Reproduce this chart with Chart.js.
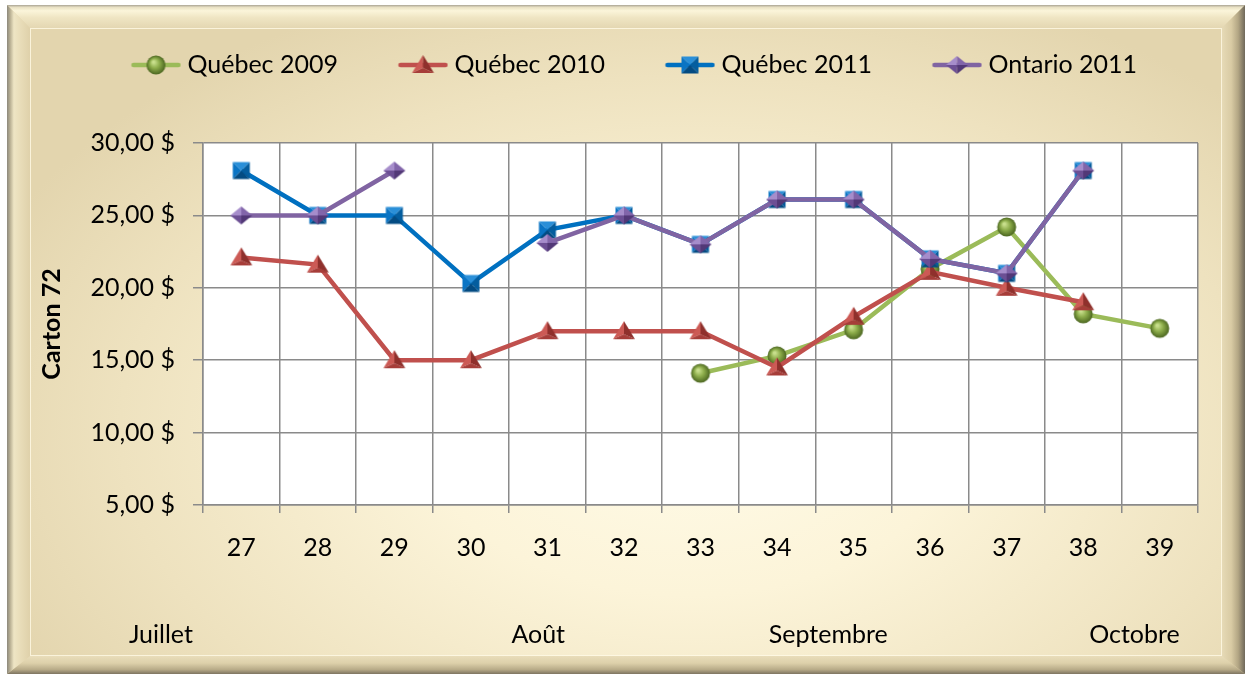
<!DOCTYPE html>
<html><head><meta charset="utf-8">
<script src="https://cdn.jsdelivr.net/npm/chart.js@4/dist/chart.umd.min.js"></script>
<style>html,body{margin:0;padding:0;background:#fff;}canvas{display:block;}</style>
</head><body>
<canvas id="c" width="1245" height="674"></canvas>
<script>
// ---- data ----
const weeks = ['27','28','29','30','31','32','33','34','35','36','37','38','39'];
const quebec2009  = [null,null,null,null,null,null,14.1,15.3,17.1,21.3,24.2,18.2,17.2];
const quebec2010  = [22.1,21.6,15.0,15.0,17.0,17.0,17.0,14.5,18.0,21.1,20.0,19.0,null];
const quebec2011  = [28.1,25.0,25.0,20.3,24.0,25.0,23.0,26.1,26.1,22.0,21.0,28.1,null];
const ontario2011 = [25.0,25.0,28.1,null,23.1,25.0,23.0,26.1,26.1,22.0,21.0,28.1,null];
const seriesNames = ['Québec 2009','Québec 2010','Québec 2011','Ontario 2011'];
const yMin = 5, yMax = 30, yStep = 5;
const yTitle = 'Carton 72';
const months = ['Juillet','Août','Septembre','Octobre'];
const monthSlot = [-1.05, 3.88, 7.67, 11.67]; // position in week slots from first week

// ---- styles ----
const FONT = 'Lato';
const colors = ['#9BBB59','#C0504D','#0070C0','#8064A2'];
const kinds = ['sphere','triangle','square','diamond'];

function poly(ctx, pts, fill){ctx.beginPath();ctx.moveTo(pts[0][0],pts[0][1]);for(let i=1;i<pts.length;i++)ctx.lineTo(pts[i][0],pts[i][1]);ctx.closePath();ctx.fillStyle=fill;ctx.fill();}
function drawMarker(ctx, kind, cx, cy){
  if(kind==='sphere'){
    const g=ctx.createRadialGradient(cx-2.5,cy-3,1,cx,cy,9.5);
    g.addColorStop(0,'#c8df8c');g.addColorStop(0.45,'#8dad4b');g.addColorStop(1,'#4b6620');
    ctx.beginPath();ctx.arc(cx,cy,9.5,0,Math.PI*2);ctx.fillStyle=g;ctx.fill();
  } else if(kind==='triangle'){
    const a=[cx,cy-10],l=[cx-11,cy+8],r=[cx+11,cy+8],c=[cx,cy+3];
    poly(ctx,[a,l,c],'#cc5a55');poly(ctx,[a,c,r],'#8f302c');poly(ctx,[l,r,c],'#a63d39');
  } else if(kind==='square'){
    const s=8.5,tl=[cx-s,cy-s],tr=[cx+s,cy-s],br=[cx+s,cy+s],bl=[cx-s,cy+s],c=[cx,cy];
    poly(ctx,[tl,tr,c],'#2a8fd8');poly(ctx,[tl,c,bl],'#0a74c4');poly(ctx,[tr,br,c],'#045d9e');poly(ctx,[bl,c,br],'#034b82');
  } else {
    const t=[cx,cy-9],r=[cx+11,cy],b=[cx,cy+9],l=[cx-11,cy],c=[cx,cy];
    poly(ctx,[t,l,c],'#a68dcb');poly(ctx,[t,c,r],'#8265aa');poly(ctx,[l,b,c],'#6c4f94');poly(ctx,[c,b,r],'#523877');
  }
}
function markerImage(kind){
  const c=document.createElement('canvas');c.width=26;c.height=24;
  drawMarker(c.getContext('2d'),kind,13,12);return c;
}
const LEG_BOX = 94, LEG_IMG = 107;
function legendImage(kind,color){
  const c=document.createElement('canvas');c.width=LEG_IMG;c.height=26;
  const ctx=c.getContext('2d');
  ctx.strokeStyle=color;ctx.lineWidth=4.5;ctx.lineCap='round';
  ctx.beginPath();ctx.moveTo(LEG_IMG-48,13);ctx.lineTo(LEG_IMG-3,13);ctx.stroke();
  drawMarker(ctx,kind,LEG_IMG-25.5,13);return c;
}

const seriesValues=[quebec2009,quebec2010,quebec2011,ontario2011];
const datasets=seriesValues.map((vals,i)=>({
  label:seriesNames[i], data:vals, borderColor:colors[i], backgroundColor:colors[i],
  borderWidth:4.5, pointStyle:markerImage(kinds[i]), pointRadius:9, pointHoverRadius:9,
  tension:0, spanGaps:false, order:3-i, legendIcon:legendImage(kinds[i],colors[i])
}));

const framePlugin={
  id:'frame',
  beforeDraw(chart){
    const ctx=chart.ctx, W=chart.width, H=chart.height;
    ctx.save();
    ctx.fillStyle='#ffffff';ctx.fillRect(0,0,W,H);
    const x0=7,y0=5,x1=W,y1=H, ix0=30,iy0=28,ix1=1222,iy1=656;
    ctx.fillStyle='#e4d7b1';ctx.fillRect(x0,y0,x1-x0,y1-y0);
    // top band
    let g=ctx.createLinearGradient(0,y0,0,iy0);
    g.addColorStop(0,'#a9a394');g.addColorStop(0.1,'#e9e1c4');g.addColorStop(0.25,'#fbf5da');g.addColorStop(0.55,'#efe5c3');g.addColorStop(1,'#e4d7b2');
    ctx.fillStyle=g;ctx.beginPath();ctx.moveTo(x0,y0);ctx.lineTo(x1,y0);ctx.lineTo(ix1,iy0);ctx.lineTo(ix0,iy0);ctx.closePath();ctx.fill();
    // bottom band
    g=ctx.createLinearGradient(0,iy1,0,y1);
    g.addColorStop(0,'#e9ddba');g.addColorStop(0.4,'#ddd0aa');g.addColorStop(0.75,'#b8ab88');g.addColorStop(1,'#7d7461');
    ctx.fillStyle=g;ctx.beginPath();ctx.moveTo(ix0,iy1);ctx.lineTo(ix1,iy1);ctx.lineTo(x1,y1);ctx.lineTo(x0,y1);ctx.closePath();ctx.fill();
    // left band
    g=ctx.createLinearGradient(x0,0,ix0,0);
    g.addColorStop(0,'#8c887c');g.addColorStop(0.15,'#bdb497');g.addColorStop(0.3,'#eee5c4');g.addColorStop(0.6,'#e8dcb8');g.addColorStop(1,'#dfd1aa');
    ctx.fillStyle=g;ctx.beginPath();ctx.moveTo(x0,y0);ctx.lineTo(ix0,iy0);ctx.lineTo(ix0,iy1);ctx.lineTo(x0,y1);ctx.closePath();ctx.fill();
    // right band
    g=ctx.createLinearGradient(ix1,0,x1,0);
    g.addColorStop(0,'#e6dab6');g.addColorStop(0.4,'#d9cba4');g.addColorStop(0.7,'#b3a684');g.addColorStop(1,'#6f685a');
    ctx.fillStyle=g;ctx.beginPath();ctx.moveTo(x1,y0);ctx.lineTo(x1,y1);ctx.lineTo(ix1,iy1);ctx.lineTo(ix1,iy0);ctx.closePath();ctx.fill();
    // inner panel
    ctx.save();
    ctx.beginPath();ctx.rect(ix0,iy0,ix1-ix0,iy1-iy0);ctx.clip();
    ctx.translate(690,430);ctx.scale(1,0.62);
    g=ctx.createRadialGradient(0,0,0,0,0,760);
    g.addColorStop(0,'#fffbe8');g.addColorStop(0.35,'#fcf4d9');g.addColorStop(0.75,'#eee2bf');g.addColorStop(1,'#e3d5ae');
    ctx.fillStyle=g;ctx.fillRect(-1000,-1200,2000,2400);
    ctx.restore();
    ctx.strokeStyle='rgba(255,250,230,0.8)';ctx.lineWidth=1;ctx.strokeRect(ix0+0.5,iy0+0.5,ix1-ix0-1,iy1-iy0-1);
    // plot area
    const a=chart.chartArea;
    ctx.fillStyle='#ffffff';ctx.fillRect(a.left,a.top,a.right-a.left,a.bottom-a.top);
    ctx.restore();
  },
  afterDraw(chart){
    const ctx=chart.ctx, x=chart.scales.x;
    const p0=x.getPixelForValue(0), step=x.getPixelForValue(1)-p0;
    ctx.save();
    ctx.font='25px '+FONT;ctx.fillStyle='#000';ctx.textAlign='center';ctx.textBaseline='middle';
    months.forEach((m,i)=>ctx.fillText(m,p0+monthSlot[i]*step,chart.chartArea.bottom+130));
    ctx.restore();
  }
};
const legendHeightPlugin={
  id:'legendHeight',
  beforeLayout(chart){
    const lg=chart.legend;
    if(lg && !lg._patched){
      const fit=lg.fit;
      lg.fit=function(){fit.call(this);this.height=100.5;};
      lg._patched=true;
    }
  }
};

new Chart(document.getElementById('c'),{
  type:'line',
  data:{labels:weeks,datasets},
  plugins:[framePlugin,legendHeightPlugin],
  options:{
    responsive:false, animation:false, devicePixelRatio:1,
    layout:{padding:{top:42.5,left:20,right:47,bottom:20}},
    font:{family:FONT,size:25},
    plugins:{
      tooltip:{enabled:false},
      legend:{
        position:'top',
        labels:{
          usePointStyle:true, pointStyleWidth:LEG_BOX, padding:10, color:'#000',
          font:{family:FONT,size:25},
          generateLabels(chart){
            return chart.data.datasets.map((d,i)=>({text:d.label,pointStyle:d.legendIcon,fillStyle:d.borderColor,strokeStyle:d.borderColor,lineWidth:0,hidden:false,datasetIndex:i,fontColor:'#000'}));
          }
        }
      }
    },
    scales:{
      x:{
        offset:true,
        grid:{offset:true,color:'#8a8a8a',lineWidth:1.5,tickLength:8,tickColor:'#8a8a8a'},
        border:{color:'#8a8a8a',width:1.5},
        ticks:{color:'#000',font:{family:FONT,size:25},padding:20,maxRotation:0},
        afterFit(s){s.height=149;}
      },
      y:{
        min:yMin,max:yMax,
        grid:{color:'#8a8a8a',lineWidth:1.5,tickLength:10,tickColor:'#8a8a8a'},
        border:{color:'#8a8a8a',width:1.5},
        ticks:{stepSize:yStep,color:'#000',font:{family:FONT,size:25},padding:18,
          callback:v=>v.toFixed(2).replace('.',',')+' $'},
        title:{display:true,text:yTitle,color:'#000',font:{family:FONT,size:25,weight:'bold'},padding:{top:17,bottom:0}},
        afterFit(s){s.width=183;}
      }
    }
  }
});
</script>
</body></html>
